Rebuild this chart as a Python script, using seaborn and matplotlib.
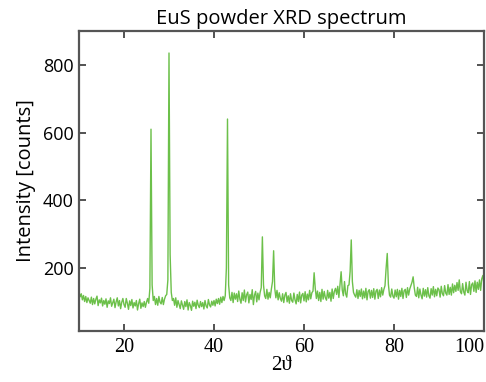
import numpy as np
import pandas as pd
import matplotlib
matplotlib.use("Agg")
import matplotlib.pyplot as plt
import seaborn as sns

# 2-theta sampling grid (degrees), 0.25 deg steps from 10 to 100
theta_start = 10.0
theta_step = 0.25

counts = [
    128, 115, 124, 106, 119, 101, 116, 98, 112, 104,
    96, 114, 92, 110, 94, 108, 117, 89, 106, 97,
    111, 88, 104, 93, 109, 84, 103, 95, 112, 87,
    98, 108, 83, 100, 112, 88, 104, 80, 99, 110,
    92, 84, 110, 96, 78, 103, 89, 107, 82, 98,
    88, 104, 76, 95, 108, 81, 97, 86, 101, 84,
    99, 110, 96, 140, 610, 150, 104, 116, 92, 110,
    90, 116, 99, 94, 113, 92, 108, 118, 122, 165,
    835, 240, 128, 104, 110, 90, 112, 84, 104, 92,
    80, 103, 91, 78, 101, 86, 106, 76, 98, 89,
    75, 102, 87, 99, 80, 105, 90, 83, 101, 86,
    98, 79, 104, 88, 82, 107, 91, 85, 102, 90,
    104, 88, 108, 95, 110, 93, 114, 98, 116, 104,
    118, 200, 640, 150, 112, 104, 128, 98, 126, 108,
    124, 101, 132, 108, 96, 127, 104, 135, 100, 121,
    129, 97, 122, 107, 136, 92, 120, 131, 100, 126,
    106, 128, 142, 292, 150, 118, 110, 137, 108, 128,
    112, 138, 160, 251, 140, 112, 134, 106, 127, 110,
    102, 124, 98, 120, 128, 100, 118, 96, 124, 104,
    99, 126, 106, 94, 122, 101, 129, 97, 120, 125,
    103, 130, 100, 123, 106, 134, 109, 127, 132, 186,
    140, 110, 132, 104, 128, 101, 137, 108, 131, 112,
    105, 134, 111, 128, 102, 138, 110, 131, 140, 122,
    146, 113, 152, 189, 135, 118, 160, 124, 114, 148,
    150, 190, 283, 160, 128, 120, 114, 136, 110, 134,
    116, 138, 109, 132, 112, 140, 106, 131, 136, 111,
    134, 113, 139, 108, 132, 137, 110, 135, 115, 142,
    120, 137, 148, 200, 243, 152, 120, 114, 138, 117,
    111, 135, 115, 137, 108, 134, 116, 140, 110, 133,
    137, 113, 142, 120, 138, 148, 158, 174, 142, 120,
    116, 143, 112, 138, 120, 109, 140, 117, 136, 114,
    142, 118, 111, 139, 120, 145, 115, 137, 118, 141,
    136, 114, 146, 124, 118, 148, 126, 120, 151, 122,
    143, 120, 153, 127, 149, 131, 157, 134, 165, 130,
    124, 154, 129, 120, 158, 133, 127, 160, 122, 151,
    156, 131, 162, 128, 158, 137, 165, 134, 168, 178,
    152,
]

x_ticks = [20, 40, 60, 80, 100]
y_ticks = [200, 400, 600, 800]

two_theta = theta_start + theta_step * np.arange(len(counts))
df = pd.DataFrame({"two_theta": two_theta, "counts": counts})

sns.set_style("white")
plt.rcParams["text.color"] = "black"
plt.rcParams["axes.labelcolor"] = "black"
plt.rcParams["xtick.color"] = "black"
plt.rcParams["ytick.color"] = "black"

fig = plt.figure(figsize=(4.86, 3.82), dpi=100)
ax = fig.add_axes([79 / 486, 1 - 331 / 382, (484 - 79) / 486, (331 - 31) / 382])

sns.lineplot(data=df, x="two_theta", y="counts", ax=ax, color="#6cc04a",
             linewidth=1.0, estimator=None)

ax.set_xlim(10, 100)
ax.set_ylim(14, 900)
ax.set_xticks(x_ticks)
ax.set_yticks(y_ticks)
xlabels = ax.set_xticklabels([str(t) for t in x_ticks], family="Liberation Serif",
                             fontsize=14.5)
# keep the last tick label inside the figure, as in the reference
xlabels[-1].set_horizontalalignment("right")
ax.set_yticklabels([str(t) for t in y_ticks], family="Open Sans", fontsize=13)

ax.tick_params(direction="in", length=5, width=1.3, color="#444444",
               labelcolor="black", top=True, right=True, bottom=True, left=True)
ax.tick_params(axis="x", pad=5)
ax.tick_params(axis="y", pad=4)
for s in ax.spines.values():
    s.set_color("#555555")
    s.set_linewidth(1.6)

ax.set_title("EuS powder XRD spectrum", family="Open Sans", fontsize=14.5, pad=5,
             color="black")
ax.set_xlabel("2\u03d1", family="Liberation Serif", fontsize=15, labelpad=-1,
              color="black")
ax.set_ylabel("Intensity [counts]", family="Open Sans", fontsize=14.5, labelpad=5,
              color="black")

fig.savefig("out.png", dpi=100)
